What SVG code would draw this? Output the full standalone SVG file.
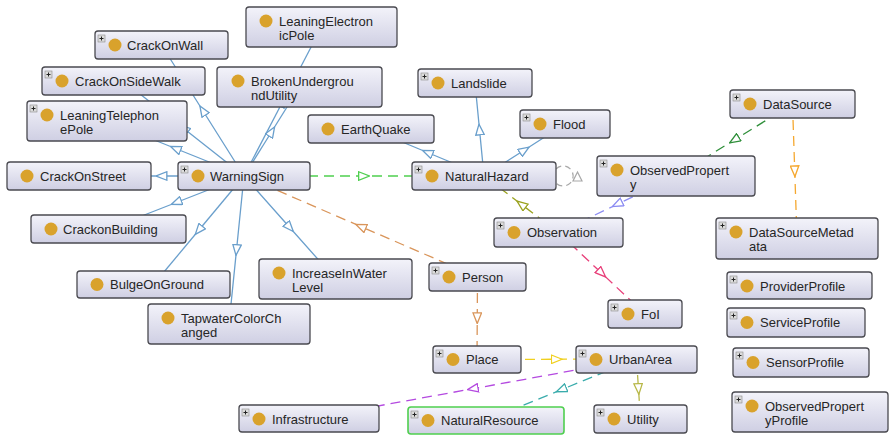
<svg xmlns="http://www.w3.org/2000/svg" width="890" height="436" viewBox="0 0 890 436">
<style>
.box{fill:url(#bg);stroke:#4a4a50;stroke-width:1.3}
.nr{stroke:#4fcf4f;stroke-width:1.6}
.dot{fill:#d9a22c}
.lbl{font-family:"Liberation Sans",Arial,sans-serif;font-size:13px;fill:#262626}
.pl{fill:#dcdcdc;stroke:#8a8a8a;stroke-width:0.6}
.plx{stroke:#222;stroke-width:1}
.e{fill:none;stroke-width:1.3}
.d{stroke-dasharray:10,6}
</style>
<defs>
<linearGradient id="bg" x1="0" y1="0" x2="0" y2="1">
<stop offset="0" stop-color="#f3f3fa"/>
<stop offset="1" stop-color="#cfcfe3"/>
</linearGradient>
<marker id="mBlue" markerUnits="userSpaceOnUse" markerWidth="12" markerHeight="10" viewBox="0 0 11 9" refX="5.5" refY="4.5" orient="auto"><path d="M0.6,0.6 L10.4,4.5 L0.6,8.4 Z" fill="#fff" stroke="#6a9fcc" stroke-width="1.2"/></marker>
<marker id="mGreen" markerUnits="userSpaceOnUse" markerWidth="12" markerHeight="10" viewBox="0 0 11 9" refX="5.5" refY="4.5" orient="auto"><path d="M0.6,0.6 L10.4,4.5 L0.6,8.4 Z" fill="#fff" stroke="#4fcf4f" stroke-width="1.2"/></marker>
<marker id="mTan" markerUnits="userSpaceOnUse" markerWidth="12" markerHeight="10" viewBox="0 0 11 9" refX="5.5" refY="4.5" orient="auto"><path d="M0.6,0.6 L10.4,4.5 L0.6,8.4 Z" fill="#fff" stroke="#d9955a" stroke-width="1.2"/></marker>
<marker id="mOlive" markerUnits="userSpaceOnUse" markerWidth="12" markerHeight="10" viewBox="0 0 11 9" refX="5.5" refY="4.5" orient="auto"><path d="M0.6,0.6 L10.4,4.5 L0.6,8.4 Z" fill="#fff" stroke="#9aa21e" stroke-width="1.2"/></marker>
<marker id="mLav" markerUnits="userSpaceOnUse" markerWidth="12" markerHeight="10" viewBox="0 0 11 9" refX="5.5" refY="4.5" orient="auto"><path d="M0.6,0.6 L10.4,4.5 L0.6,8.4 Z" fill="#fff" stroke="#8c8cf2" stroke-width="1.2"/></marker>
<marker id="mDkGreen" markerUnits="userSpaceOnUse" markerWidth="12" markerHeight="10" viewBox="0 0 11 9" refX="5.5" refY="4.5" orient="auto"><path d="M0.6,0.6 L10.4,4.5 L0.6,8.4 Z" fill="#fff" stroke="#2f8f3a" stroke-width="1.2"/></marker>
<marker id="mOrange" markerUnits="userSpaceOnUse" markerWidth="12" markerHeight="10" viewBox="0 0 11 9" refX="5.5" refY="4.5" orient="auto"><path d="M0.6,0.6 L10.4,4.5 L0.6,8.4 Z" fill="#fff" stroke="#f5a830" stroke-width="1.2"/></marker>
<marker id="mPink" markerUnits="userSpaceOnUse" markerWidth="12" markerHeight="10" viewBox="0 0 11 9" refX="5.5" refY="4.5" orient="auto"><path d="M0.6,0.6 L10.4,4.5 L0.6,8.4 Z" fill="#fff" stroke="#e8407a" stroke-width="1.2"/></marker>
<marker id="mYellow" markerUnits="userSpaceOnUse" markerWidth="12" markerHeight="10" viewBox="0 0 11 9" refX="5.5" refY="4.5" orient="auto"><path d="M0.6,0.6 L10.4,4.5 L0.6,8.4 Z" fill="#fff" stroke="#f0d020" stroke-width="1.2"/></marker>
<marker id="mPurple" markerUnits="userSpaceOnUse" markerWidth="12" markerHeight="10" viewBox="0 0 11 9" refX="5.5" refY="4.5" orient="auto"><path d="M0.6,0.6 L10.4,4.5 L0.6,8.4 Z" fill="#fff" stroke="#b44ae0" stroke-width="1.2"/></marker>
<marker id="mTeal" markerUnits="userSpaceOnUse" markerWidth="12" markerHeight="10" viewBox="0 0 11 9" refX="5.5" refY="4.5" orient="auto"><path d="M0.6,0.6 L10.4,4.5 L0.6,8.4 Z" fill="#fff" stroke="#3aacac" stroke-width="1.2"/></marker>
<marker id="mKhaki" markerUnits="userSpaceOnUse" markerWidth="12" markerHeight="10" viewBox="0 0 11 9" refX="5.5" refY="4.5" orient="auto"><path d="M0.6,0.6 L10.4,4.5 L0.6,8.4 Z" fill="#fff" stroke="#b8b848" stroke-width="1.2"/></marker>
<g id="plus"><rect class="pl" x="0" y="0" width="7" height="7"/><path class="plx" d="M1.5,3.5 H5.5 M3.5,1.5 V5.5"/></g>
</defs>
<rect width="890" height="436" fill="#fff"/>

<g id="connectors">
<g stroke="#6a9fcc" class="e" marker-mid="url(#mBlue)">
<path class="e" d="M244,176 L202.75,110.5 L161.5,45"/>
<path class="e" d="M244,176 L183.75,128.5 L123.5,81"/>
<path class="e" d="M244,176 L175.5,148.5 L107,121"/>
<path class="e" d="M244,176 L161.5,176 L79,176"/>
<path class="e" d="M244,176 L176.25,202.5 L108.5,229"/>
<path class="e" d="M244,176 L198.75,230.25 L153.5,284.5"/>
<path class="e" d="M244,176 L236.5,250 L229,324"/>
<path class="e" d="M244,176 L289.75,227.5 L335.5,279"/>
<path class="e" d="M244,176 L271.75,131.5 L299.5,87"/>
<path class="e" d="M244,176 L282.75,101.5 L321.5,27"/>
<path class="e" d="M484,176 L479.5,129.5 L475,83"/>
<path class="e" d="M484,176 L427.5,152.5 L371,129"/>
<path class="e" d="M484,176 L524.5,150 L565,124"/>
</g>
<path class="e d" stroke="#4fcf4f" marker-mid="url(#mGreen)" d="M244,176 L364,176 L484,176"/>
<path class="e d" stroke="#d9955a" marker-mid="url(#mTan)" d="M477.5,277 L360.75,226.5 L244,176"/>
<path class="e d" stroke="#9aa21e" marker-mid="url(#mOlive)" d="M558.5,232.5 L521.25,204.25 L484,176"/>
<path class="e d" stroke="#8c8cf2" marker-mid="url(#mLav)" d="M676,176 L617.25,204.25 L558.5,232.5"/>
<path class="e d" stroke="#2f8f3a" marker-mid="url(#mDkGreen)" d="M792.5,104 L734.25,140 L676,176"/>
<path class="e d" stroke="#f5a830" marker-mid="url(#mOrange)" d="M792.5,104 L794.75,171.25 L797,238.5"/>
<path class="e d" stroke="#e8407a" marker-mid="url(#mPink)" d="M558.5,232.5 L601.75,273.25 L645,314"/>
<path class="e d" stroke="#d9955a" marker-mid="url(#mTan)" d="M477.5,277 L477.25,318.25 L477,359.5"/>
<path class="e d" stroke="#f0d020" marker-mid="url(#mYellow)" d="M477,359.5 L556.75,359.25 L636.5,359"/>
<path class="e d" stroke="#b44ae0" marker-mid="url(#mPurple)" d="M636.5,359 L472.75,388.75 L309,418.5"/>
<path class="e d" stroke="#3aacac" marker-mid="url(#mTeal)" d="M636.5,359 L561.25,389.75 L486,420.5"/>
<path class="e d" stroke="#b8b848" marker-mid="url(#mKhaki)" d="M636.5,359 L638.5,389 L640.5,419"/>
<path fill="none" stroke="#a8a8a8" stroke-width="1.3" stroke-dasharray="6,4" d="M556,169 A10,10 0 1,1 556,183"/>
<path fill="#fff" stroke="#a8a8a8" stroke-width="1.2" d="M577.5,172 L582,181 L573,181 Z"/>
</g>

<g id="n-LeaningElectronicPole"><rect class="box" x="246" y="7" width="151" height="40" rx="3"/><circle class="dot" cx="266" cy="21" r="6.5"/><text class="lbl" x="279" y="25.5">LeaningElectron</text><text class="lbl" x="279" y="40">icPole</text></g>
<g id="n-CrackOnWall"><rect class="box" x="95" y="31" width="133" height="28" rx="3"/><use href="#plus" x="98" y="35"/><circle class="dot" cx="115" cy="45" r="6.5"/><text class="lbl" x="127" y="49.5">CrackOnWall</text></g>
<g id="n-CrackOnSideWalk"><rect class="box" x="42" y="67" width="163" height="28" rx="3"/><use href="#plus" x="45" y="71"/><circle class="dot" cx="62" cy="81" r="6.5"/><text class="lbl" x="75" y="85.5">CrackOnSideWalk</text></g>
<g id="n-BrokenUndergroundUtility"><rect class="box" x="217" y="67" width="165" height="40" rx="3"/><circle class="dot" cx="238" cy="81" r="6.5"/><text class="lbl" x="251" y="85.5">BrokenUndergrou</text><text class="lbl" x="251" y="100">ndUtility</text></g>
<g id="n-LeaningTelephonePole"><rect class="box" x="27" y="101" width="160" height="40" rx="3"/><use href="#plus" x="30" y="105"/><circle class="dot" cx="47" cy="115" r="6.5"/><text class="lbl" x="60" y="119.5">LeaningTelephon</text><text class="lbl" x="60" y="134">ePole</text></g>
<g id="n-CrackOnStreet"><rect class="box" x="7" y="162" width="144" height="28" rx="3"/><circle class="dot" cx="27" cy="176" r="6.5"/><text class="lbl" x="40" y="180.5">CrackOnStreet</text></g>
<g id="n-WarningSign"><rect class="box" x="178" y="162" width="132" height="28" rx="3"/><use href="#plus" x="181" y="166"/><circle class="dot" cx="198" cy="176" r="6.5"/><text class="lbl" x="210" y="180.5">WarningSign</text></g>
<g id="n-CrackonBuilding"><rect class="box" x="31" y="215" width="155" height="28" rx="3"/><circle class="dot" cx="51" cy="229" r="6.5"/><text class="lbl" x="63" y="233.5">CrackonBuilding</text></g>
<g id="n-BulgeOnGround"><rect class="box" x="77" y="271" width="153" height="27" rx="3"/><circle class="dot" cx="97" cy="284.5" r="6.5"/><text class="lbl" x="110" y="289">BulgeOnGround</text></g>
<g id="n-TapwaterColorChanged"><rect class="box" x="148" y="304" width="162" height="40" rx="3"/><circle class="dot" cx="168" cy="318" r="6.5"/><text class="lbl" x="181" y="322.5">TapwaterColorCh</text><text class="lbl" x="181" y="337">anged</text></g>
<g id="n-IncreaseInWaterLevel"><rect class="box" x="259" y="259" width="153" height="40" rx="3"/><circle class="dot" cx="279" cy="273" r="6.5"/><text class="lbl" x="292" y="277.5">IncreaseInWater</text><text class="lbl" x="292" y="292">Level</text></g>
<g id="n-Infrastructure"><rect class="box" x="239" y="405" width="140" height="27" rx="3"/><use href="#plus" x="242" y="409"/><circle class="dot" cx="259" cy="419" r="6.5"/><text class="lbl" x="272" y="423.5">Infrastructure</text></g>
<g id="n-Landslide"><rect class="box" x="418" y="69" width="114" height="28" rx="3"/><use href="#plus" x="421" y="73"/><circle class="dot" cx="438" cy="83" r="6.5"/><text class="lbl" x="451" y="87.5">Landslide</text></g>
<g id="n-EarthQuake"><rect class="box" x="308" y="115" width="126" height="28" rx="3"/><circle class="dot" cx="328" cy="129" r="6.5"/><text class="lbl" x="341" y="133.5">EarthQuake</text></g>
<g id="n-Flood"><rect class="box" x="520" y="110" width="90" height="28" rx="3"/><use href="#plus" x="523" y="114"/><circle class="dot" cx="540" cy="124" r="6.5"/><text class="lbl" x="553" y="128.5">Flood</text></g>
<g id="n-NaturalHazard"><rect class="box" x="412" y="162" width="144" height="28" rx="3"/><use href="#plus" x="415" y="166"/><circle class="dot" cx="432" cy="176" r="6.5"/><text class="lbl" x="445" y="180.5">NaturalHazard</text></g>
<g id="n-Observation"><rect class="box" x="494" y="218" width="129" height="29" rx="3"/><use href="#plus" x="497" y="222"/><circle class="dot" cx="514" cy="232.5" r="6.5"/><text class="lbl" x="527" y="237">Observation</text></g>
<g id="n-ObservedProperty"><rect class="box" x="597" y="156" width="158" height="40" rx="3"/><use href="#plus" x="600" y="160"/><circle class="dot" cx="617" cy="170" r="6.5"/><text class="lbl" x="630" y="174.5">ObservedPropert</text><text class="lbl" x="630" y="189">y</text></g>
<g id="n-DataSource"><rect class="box" x="730" y="90" width="125" height="28" rx="3"/><use href="#plus" x="733" y="94"/><circle class="dot" cx="750" cy="104" r="6.5"/><text class="lbl" x="763" y="108.5">DataSource</text></g>
<g id="n-DataSourceMetadata"><rect class="box" x="716" y="218" width="162" height="41" rx="3"/><use href="#plus" x="719" y="222"/><circle class="dot" cx="736" cy="232" r="6.5"/><text class="lbl" x="749" y="236.5">DataSourceMetad</text><text class="lbl" x="749" y="251">ata</text></g>
<g id="n-ProviderProfile"><rect class="box" x="727" y="272" width="145" height="27" rx="3"/><use href="#plus" x="730" y="276"/><circle class="dot" cx="747" cy="286" r="6.5"/><text class="lbl" x="760" y="290.5">ProviderProfile</text></g>
<g id="n-ServiceProfile"><rect class="box" x="727" y="308" width="138" height="29" rx="3"/><use href="#plus" x="730" y="312"/><circle class="dot" cx="747" cy="322.5" r="6.5"/><text class="lbl" x="760" y="327">ServiceProfile</text></g>
<g id="n-SensorProfile"><rect class="box" x="733" y="348" width="136" height="29" rx="3"/><use href="#plus" x="736" y="352"/><circle class="dot" cx="753" cy="362.5" r="6.5"/><text class="lbl" x="766" y="367">SensorProfile</text></g>
<g id="n-ObservedPropertyProfile"><rect class="box" x="732" y="392" width="156" height="40" rx="3"/><use href="#plus" x="735" y="396"/><circle class="dot" cx="752" cy="406" r="6.5"/><text class="lbl" x="765" y="410.5">ObservedPropert</text><text class="lbl" x="765" y="425">yProfile</text></g>
<g id="n-Person"><rect class="box" x="429" y="263" width="97" height="28" rx="3"/><use href="#plus" x="432" y="267"/><circle class="dot" cx="449" cy="277" r="6.5"/><text class="lbl" x="462" y="281.5">Person</text></g>
<g id="n-FoI"><rect class="box" x="608" y="300" width="74" height="28" rx="3"/><use href="#plus" x="611" y="304"/><circle class="dot" cx="628" cy="314" r="6.5"/><text class="lbl" x="641" y="318.5">FoI</text></g>
<g id="n-Place"><rect class="box" x="433" y="346" width="88" height="27" rx="3"/><use href="#plus" x="436" y="350"/><circle class="dot" cx="453" cy="359.5" r="6.5"/><text class="lbl" x="466" y="364">Place</text></g>
<g id="n-UrbanArea"><rect class="box" x="576" y="346" width="121" height="27" rx="3"/><use href="#plus" x="579" y="350"/><circle class="dot" cx="596" cy="359.5" r="6.5"/><text class="lbl" x="609" y="364">UrbanArea</text></g>
<g id="n-NaturalResource"><rect class="box nr" x="408" y="407" width="156" height="27" rx="3"/><use href="#plus" x="411" y="411"/><circle class="dot" cx="428" cy="420.5" r="6.5"/><text class="lbl" x="441" y="425">NaturalResource</text></g>
<g id="n-Utility"><rect class="box" x="594" y="405" width="93" height="28" rx="3"/><use href="#plus" x="597" y="409"/><circle class="dot" cx="614" cy="419" r="6.5"/><text class="lbl" x="627" y="423.5">Utility</text></g>
</svg>
